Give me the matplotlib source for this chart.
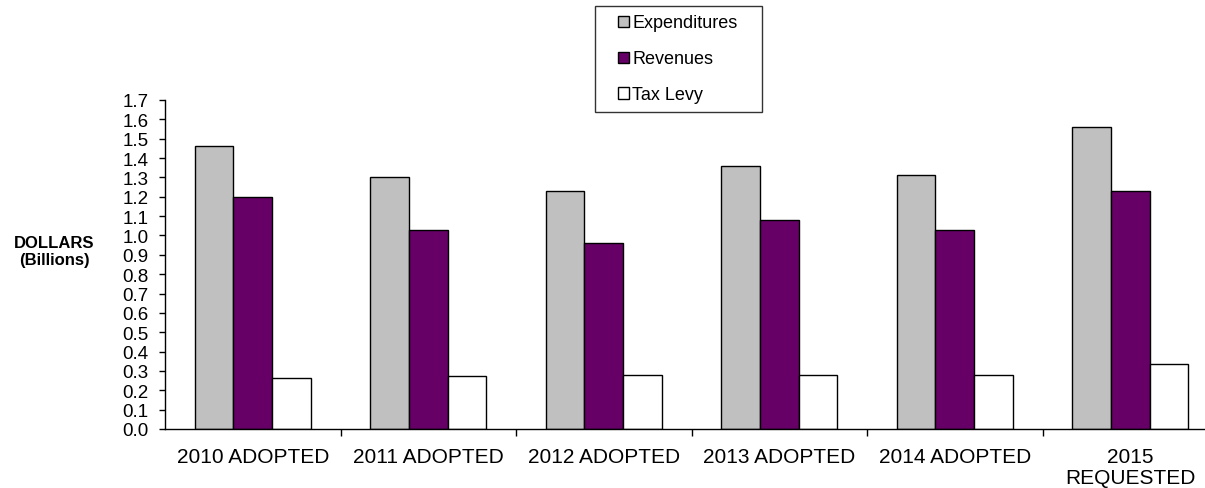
import numpy as np
import matplotlib
matplotlib.use("Agg")
import matplotlib.pyplot as plt
from matplotlib.ticker import FormatStrFormatter
from matplotlib.patches import Rectangle
from matplotlib.legend_handler import HandlerPatch

plt.rcParams['font.family'] = ['Liberation Sans', 'DejaVu Sans']

# data (billions of dollars)
categories = ["2010 ADOPTED", "2011 ADOPTED", "2012 ADOPTED", "2013 ADOPTED",
              "2014 ADOPTED", "2015\nREQUESTED"]
expenditures = [1.46, 1.30, 1.23, 1.36, 1.31, 1.56]
revenues = [1.20, 1.03, 0.96, 1.08, 1.03, 1.23]
tax_levy = [0.265, 0.275, 0.28, 0.28, 0.28, 0.335]
y_ticks = np.arange(0, 1.71, 0.1)

fig = plt.figure(figsize=(12.05, 4.89), dpi=100)
ax = fig.add_axes([165 / 1205, 59 / 489, 1053 / 1205, 329 / 489])

x = np.arange(len(categories))
w = 0.22
b1 = ax.bar(x - w, expenditures, w, color='#c0c0c0', edgecolor='black', linewidth=1.0, label='Expenditures')
b2 = ax.bar(x, revenues, w, color='#660066', edgecolor='black', linewidth=1.0, label='Revenues')
b3 = ax.bar(x + w, tax_levy, w, color='white', edgecolor='black', linewidth=1.0, label='Tax Levy')

ax.set_xlim(-0.5, len(categories) - 0.5)
ax.set_ylim(0, 1.7)
ax.set_yticks(y_ticks)
ax.yaxis.set_major_formatter(FormatStrFormatter('%.1f'))
ax.tick_params(axis='y', labelsize=13.5, length=4, width=1, pad=8, direction='out')

ax.set_xticks(x)
ax.set_xticklabels(categories, fontsize=15, linespacing=1.15)
ax.tick_params(axis='x', which='major', length=0, pad=13)
ax.set_xticks(np.arange(0.5, len(categories) - 0.5, 1.0), minor=True)
ax.tick_params(axis='x', which='minor', length=5, width=1, direction='out')

for s in ['top', 'right']:
    ax.spines[s].set_visible(False)
for s in ['left', 'bottom']:
    ax.spines[s].set_linewidth(1.0)

fig.text(54 / 1205, 1 - 252 / 489, "DOLLARS\n(Billions)", ha='center', va='center',
         fontsize=12, fontweight='bold', linespacing=1.2)


# small square swatch placed at the right end of the handle area
def square_swatch(legend, orig_handle, xdescent, ydescent, width, height, fontsize):
    side = 0.62 * fontsize
    return Rectangle((width - side - xdescent, (height - side) / 2 - ydescent), side, side)


leg = fig.legend(handles=[b1[0], b2[0], b3[0]], labels=['Expenditures', 'Revenues', 'Tax Levy'],
                 loc='upper left',
                 bbox_to_anchor=(595 / 1205, 1 - 7 / 489, 167 / 1205, 0), mode='expand',
                 borderaxespad=0, fontsize=13, frameon=True, fancybox=False, edgecolor='black',
                 handlelength=1.4, handleheight=0.7, handletextpad=0.2,
                 labelspacing=1.05, borderpad=0.47,
                 handler_map={Rectangle: HandlerPatch(patch_func=square_swatch)})
leg.get_frame().set_linewidth(1.0)

fig.savefig("out.png", dpi=100)
